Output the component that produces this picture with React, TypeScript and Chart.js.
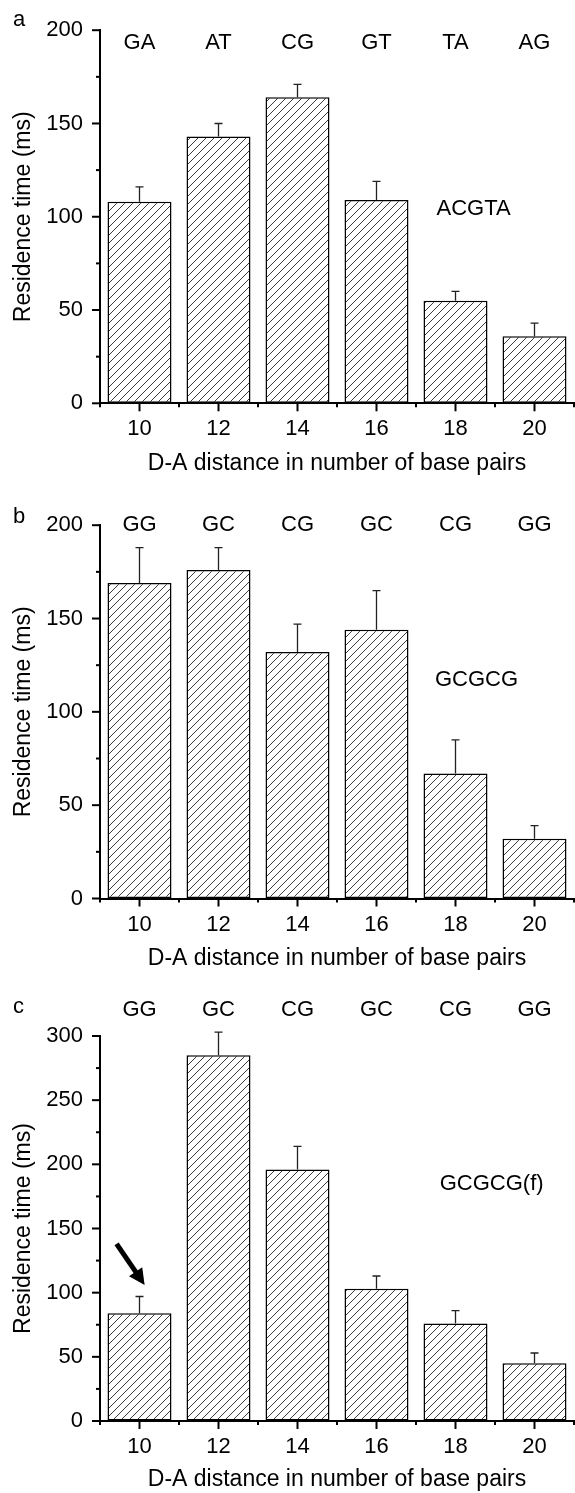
import React, { useEffect, useRef } from "react";
import { Chart, registerables } from "chart.js";

Chart.register(...registerables);

// ---------- data ----------
const distances = ["10", "12", "14", "16", "18", "20"];

const pairsA = ["GA", "AT", "CG", "GT", "TA", "AG"];
const valuesA = [108, 143, 164, 109, 55, 36];
const errorsA = [8, 7, 7, 10, 5, 7];

const pairsB = ["GG", "GC", "CG", "GC", "CG", "GG"];
const valuesB = [169, 176, 132, 144, 67, 32];
const errorsB = [19, 12, 15, 21, 18, 7];

const pairsC = ["GG", "GC", "CG", "GC", "CG", "GG"];
const valuesC = [84, 285, 196, 103, 76, 45];
const errorsC = [13, 18, 18, 10, 10, 8];

const yMaxAB = 200;
const yMaxC = 300;
const yStepMajor = 50;
const yStepMinor = 25;

const xTitle = "D-A distance in number of base pairs";
const yTitle = "Residence time (ms)";

const FONT = '"Liberation Sans", Arial, Helvetica, sans-serif';
const FS = 22;
const FT = 23;

type PanelCfg = {
  letter: string;
  letterBaseline: number;
  top: number;
  height: number;
  chartTop: number;
  axisY: number;
  yMax: number;
  pairs: string[];
  values: number[];
  errors: number[];
  pairValue: number;
  note: string;
  noteIndex: number;
  noteValue: number;
  arrow?: { x0: number; y0: number; x1: number; y1: number };
};

const panels: PanelCfg[] = [
  {
    letter: "a", letterBaseline: 26, top: 0, height: 495, chartTop: 19, axisY: 403.3,
    yMax: yMaxAB, pairs: pairsA, values: valuesA, errors: errorsA, pairValue: 193,
    note: "ACGTA", noteIndex: 3.76, noteValue: 104,
  },
  {
    letter: "b", letterBaseline: 28, top: 495, height: 478, chartTop: 19, axisY: 403.5,
    yMax: yMaxAB, pairs: pairsB, values: valuesB, errors: errorsB, pairValue: 200,
    note: "GCGCG", noteIndex: 3.74, noteValue: 117,
  },
  {
    letter: "c", letterBaseline: 40, top: 973, height: 520, chartTop: 63, axisY: 448,
    yMax: yMaxC, pairs: pairsC, values: valuesC, errors: errorsC, pairValue: 320,
    note: "GCGCG(f)", noteIndex: 3.8, noteValue: 185,
    arrow: { x0: -0.29, y0: 138, x1: 0.065, y1: 106 },
  },
];

function makeHatch(): CanvasPattern | string {
  const c = document.createElement("canvas");
  c.width = 8;
  c.height = 8;
  const g = c.getContext("2d");
  if (!g) return "#fff";
  g.fillStyle = "#fff";
  g.fillRect(0, 0, 8, 8);
  g.strokeStyle = "#3a3a3a";
  g.lineWidth = 1;
  g.beginPath();
  g.moveTo(0, 8);
  g.lineTo(8, 0);
  g.moveTo(-1, 1);
  g.lineTo(1, -1);
  g.moveTo(7, 9);
  g.lineTo(9, 7);
  g.stroke();
  const p = g.createPattern(c, "repeat");
  return p || "#fff";
}

const decorPlugin = {
  id: "decor",
  afterDraw(chart: any) {
    const cfg: PanelCfg = chart.options.plugins.decor.cfg;
    const ctx: CanvasRenderingContext2D = chart.ctx;
    const xs = chart.scales.x;
    const ys = chart.scales.y;
    ctx.save();
    ctx.strokeStyle = "#000";
    ctx.lineWidth = 2;
    ctx.lineCap = "butt";
    // y ticks
    ys.ticks.forEach((t: any) => {
      const y = ys.getPixelForValue(t.value);
      const len = t.value % yStepMajor === 0 ? 8 : 4;
      ctx.beginPath();
      ctx.moveTo(ys.right - len, y);
      ctx.lineTo(ys.right, y);
      ctx.stroke();
    });
    // x ticks
    const n = cfg.values.length;
    const base = xs.top;
    for (let i = 0; i < n; i++) {
      const xm = xs.getPixelForValue(i);
      ctx.beginPath();
      ctx.moveTo(xm, base);
      ctx.lineTo(xm, base + 8);
      ctx.stroke();
      const xb = xs.getPixelForValue(i - 0.5);
      ctx.beginPath();
      ctx.moveTo(xb, base);
      ctx.lineTo(xb, base + 4);
      ctx.stroke();
    }
    const xe = xs.getPixelForValue(n - 0.5);
    ctx.beginPath();
    ctx.moveTo(xe, base);
    ctx.lineTo(xe, base + 4);
    ctx.stroke();

    // error bars
    const meta = chart.getDatasetMeta(0);
    ctx.strokeStyle = "#222";
    ctx.lineWidth = 1.3;
    meta.data.forEach((bar: any, i: number) => {
      const yt = ys.getPixelForValue(cfg.values[i] + cfg.errors[i]);
      ctx.beginPath();
      ctx.moveTo(bar.x, bar.y);
      ctx.lineTo(bar.x, yt);
      ctx.moveTo(bar.x - 4, yt);
      ctx.lineTo(bar.x + 4, yt);
      ctx.stroke();
    });

    // text
    ctx.fillStyle = "#000";
    ctx.font = `${FS}px ${FONT}`;
    ctx.textAlign = "center";
    ctx.textBaseline = "middle";
    const py = ys.getPixelForValue(cfg.pairValue);
    cfg.pairs.forEach((p, i) => {
      ctx.fillText(p, xs.getPixelForValue(i), py);
    });
    ctx.textAlign = "left";
    ctx.fillText(cfg.note, xs.getPixelForValue(cfg.noteIndex), ys.getPixelForValue(cfg.noteValue));
    ctx.textBaseline = "alphabetic";
    ctx.fillText(cfg.letter, 13, cfg.letterBaseline);

    // arrow
    if (cfg.arrow) {
      const a = cfg.arrow;
      const x0 = xs.getPixelForValue(a.x0);
      const y0 = ys.getPixelForValue(a.y0);
      const x1 = xs.getPixelForValue(a.x1);
      const y1 = ys.getPixelForValue(a.y1);
      const dx = x1 - x0;
      const dy = y1 - y0;
      const L = Math.sqrt(dx * dx + dy * dy);
      const ux = dx / L;
      const uy = dy / L;
      const head = 16;
      const hw = 8;
      const bx = x1 - ux * head;
      const by = y1 - uy * head;
      ctx.strokeStyle = "#000";
      ctx.lineWidth = 5;
      ctx.beginPath();
      ctx.moveTo(x0, y0);
      ctx.lineTo(bx + ux * 2, by + uy * 2);
      ctx.stroke();
      ctx.fillStyle = "#000";
      ctx.beginPath();
      ctx.moveTo(x1, y1);
      ctx.lineTo(bx - uy * hw, by + ux * hw);
      ctx.lineTo(bx + uy * hw, by - ux * hw);
      ctx.closePath();
      ctx.fill();
    }
    ctx.restore();
  },
};

function Panel({ cfg }: { cfg: PanelCfg }) {
  const ref = useRef<HTMLCanvasElement>(null);
  useEffect(() => {
    if (!ref.current) return;
    const xH = 60 + (FT * 1.2) / 2;
    const padBottom = Math.max(0, cfg.height - cfg.axisY - xH);
    const xHeight = cfg.height - cfg.axisY - padBottom;
    const chart = new Chart(ref.current, {
      type: "bar",
      data: {
        labels: distances,
        datasets: [
          {
            data: cfg.values,
            backgroundColor: makeHatch() as any,
            borderColor: "#000",
            borderWidth: 1.5,
            borderSkipped: false,
            categoryPercentage: 1,
            barPercentage: 0.81,
          },
        ],
      },
      options: {
        responsive: false,
        animation: false,
        devicePixelRatio: 1,
        layout: { padding: { top: cfg.chartTop, left: 0, right: 1, bottom: padBottom } },
        plugins: {
          legend: { display: false },
          tooltip: { enabled: false },
          decor: { cfg },
        } as any,
        scales: {
          x: {
            type: "category",
            offset: true,
            grid: { display: true, drawOnChartArea: false, drawTicks: false, tickLength: 0 },
            border: { display: true, color: "#000", width: 2 },
            ticks: {
              color: "#000",
              font: { family: FONT, size: FS },
              padding: 12.8,
              maxRotation: 0,
              autoSkip: false,
            },
            title: {
              display: true,
              text: xTitle,
              color: "#000",
              font: { family: FONT, size: FT },
              padding: { top: 0, bottom: 0 },
            },
            afterFit: (s: any) => {
              s.height = xHeight;
            },
          },
          y: {
            min: 0,
            max: cfg.yMax,
            grid: { display: true, drawOnChartArea: false, drawTicks: false, tickLength: 0 },
            border: { display: true, color: "#000", width: 2 },
            ticks: {
              stepSize: yStepMinor,
              autoSkip: false,
              color: "#000",
              font: { family: FONT, size: FS },
              padding: 17,
              callback: (v: any) => (Number(v) % yStepMajor === 0 ? String(v) : ""),
            },
            title: {
              display: true,
              text: yTitle,
              color: "#000",
              font: { family: FONT, size: FT },
              padding: { top: 10.2, bottom: 0 },
            },
            afterFit: (s: any) => {
              s.width = 100;
            },
          },
        },
      } as any,
      plugins: [decorPlugin as any],
    });
    return () => chart.destroy();
  }, [cfg]);
  return (
    <canvas
      ref={ref}
      width={575}
      height={cfg.height}
      style={{ position: "absolute", left: 0, top: cfg.top, width: 575, height: cfg.height }}
    />
  );
}

export default function App() {
  return (
    <div
      style={{
        position: "absolute",
        left: 0,
        top: 0,
        width: 575,
        height: 1493,
        overflow: "hidden",
        background: "#fff",
      }}
    >
      {panels.map((p) => (
        <Panel key={p.letter} cfg={p} />
      ))}
    </div>
  );
}
